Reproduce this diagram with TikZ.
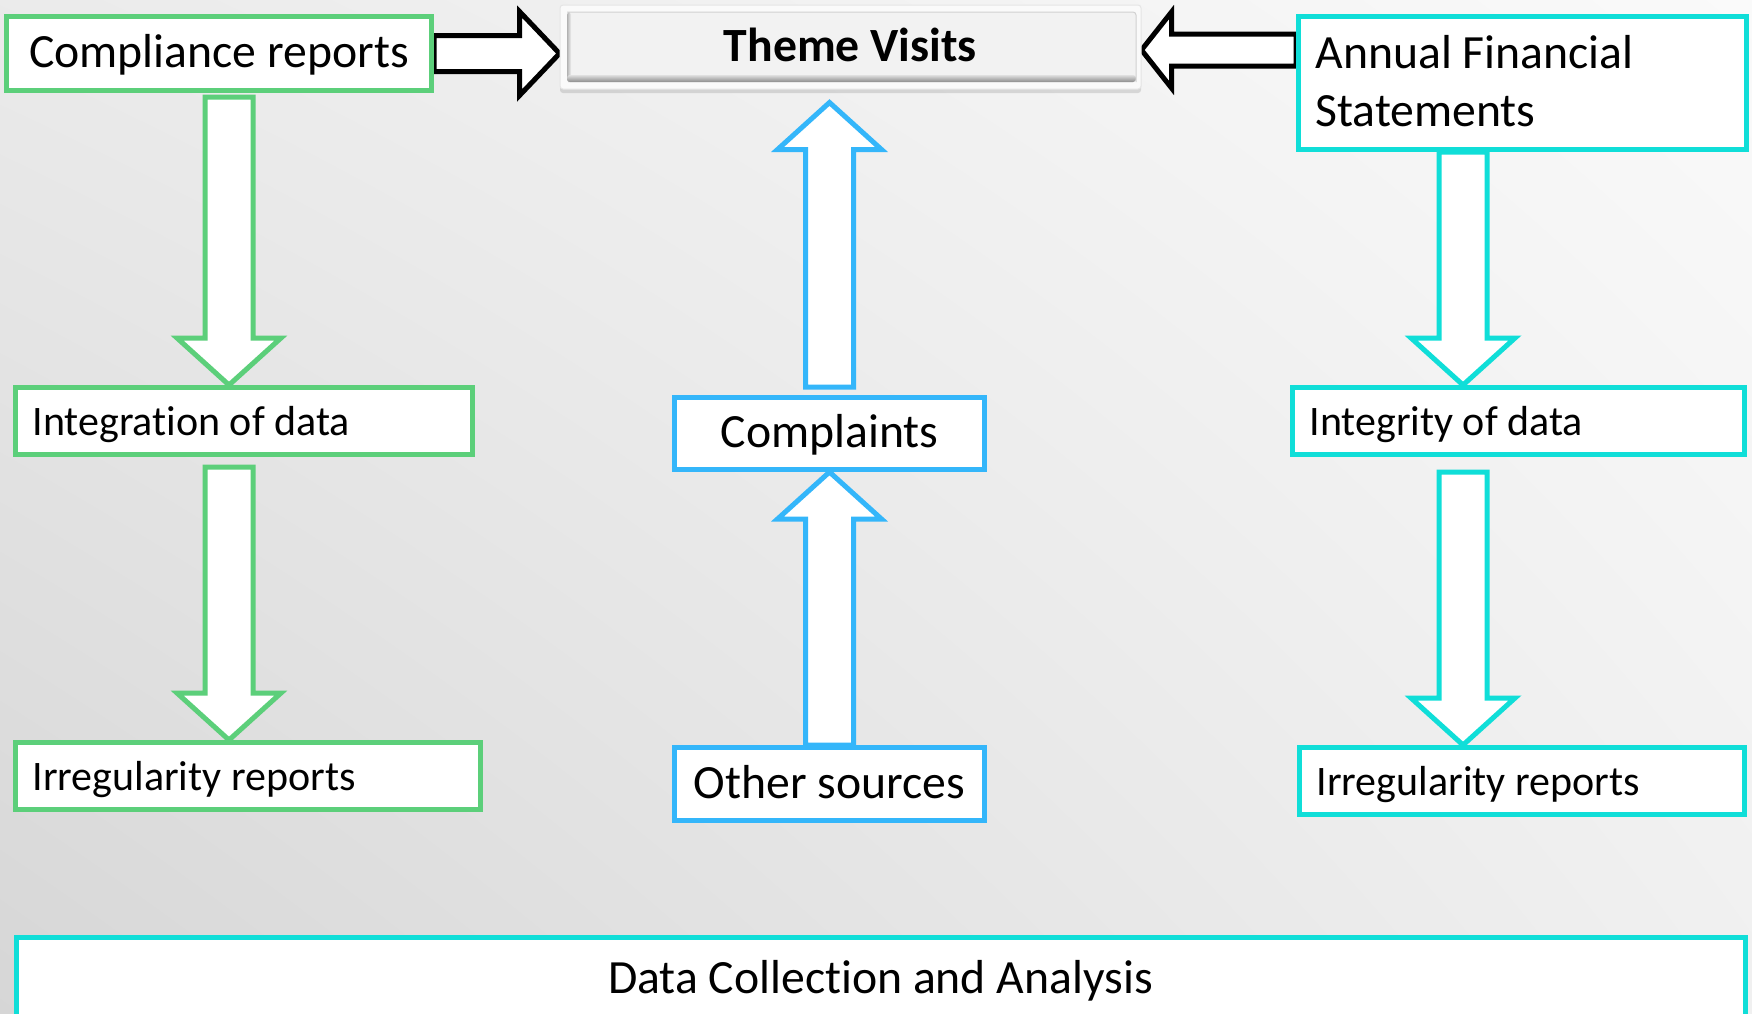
\documentclass[tikz,border=0pt]{standalone}
\usepackage{fontspec}
\setmainfont{Carlito}[Ligatures=NoCommon]
\usetikzlibrary{calc,shadows,shadings}
\definecolor{boxgreen}{RGB}{92,207,122}
\definecolor{boxblue}{RGB}{52,182,250}
\definecolor{boxcyan}{RGB}{16,222,216}
\newcommand{\bigfont}{\fontsize{47.7}{58}\selectfont}
\newcommand{\smallfont}{\fontsize{42}{50}\selectfont}
\pgfdeclarelayer{back}
\pgfdeclarelayer{arrows}
\pgfsetlayers{back,arrows,main}
% block arrow from #2 to #3: shaft half width #4, head half width #5, head length #6
\newcommand{\fatarrow}[6]{%
  \draw[#1] let \p1=#2, \p2=#3,
      \n1={atan2(\y2-\y1,\x2-\x1)}, \n2={veclen(\x2-\x1,\y2-\y1)} in
    [shift={(\p1)}, rotate=\n1]
    (0,#4) -- ({\n2-#6},#4) -- ({\n2-#6},#5) -- (\n2,0)
    -- ({\n2-#6},-#5) -- ({\n2-#6},-#4) -- (0,-#4) -- cycle;
}

\begin{document}
\begin{tikzpicture}[x=1pt,y=-1pt,
    card/.style={draw,line width=5pt,fill=white,inner xsep=17pt,inner ysep=0pt},
    oneline/.style={text height=28pt,text depth=0pt},
    bigtxt/.style={font=\bigfont},
    smalltxt/.style={font=\smallfont,align=flush left,oneline},
    arrowbox/.style={fill=white,line width=5pt,line join=miter},
    themebox/.style={fill=black!2,draw=black!10,line width=1pt,rounded corners=3pt,
      drop shadow={shadow xshift=0pt,shadow yshift=-4pt,opacity=.25},
      font=\bigfont\bfseries,oneline,
      path picture={
        \fill[black!5] ([shift={(7pt,-7pt)}]path picture bounding box.north west) rectangle ([shift={(-5pt,7pt)}]path picture bounding box.south east);
        \shade[left color=black!30,right color=black!6] ([shift={(7pt,-7pt)}]path picture bounding box.north west) rectangle ([shift={(11pt,7pt)}]path picture bounding box.south west);
        \shade[top color=black!12,bottom color=black!45] ([shift={(7pt,14pt)}]path picture bounding box.south west) rectangle ([shift={(-5pt,7pt)}]path picture bounding box.south east);
        \draw[black!18,line width=1pt] ([shift={(7pt,-7pt)}]path picture bounding box.north west) -- ([shift={(-5pt,-7pt)}]path picture bounding box.north east) -- ([shift={(-5pt,7pt)}]path picture bounding box.south east);
      }}]
  \useasboundingbox (0,0) rectangle (1752,1013);
  \clip (0,0) rectangle (1752,1013);
  \begin{pgfonlayer}{back}
    \shade[upper left=black!8,upper right=black!2,lower left=black!16,lower right=black!6] (0,0) rectangle (1752,1013);
  \end{pgfonlayer}

  \node[card,bigtxt,oneline,draw=boxgreen,minimum width=425pt,minimum height=74pt] (comp) at (219,53.5) {Compliance reports};
  \node[themebox,minimum width=581pt,minimum height=84pt] (theme) at (850.5,47) {Theme Visits};
  \node[card,bigtxt,draw=boxcyan,align=flush left,text width=414pt,minimum height=133pt,text height=33pt,text depth=63pt] (annual) at (1522.5,83) {Annual Financial\\Statements};
  \node[card,smalltxt,draw=boxgreen,text width=423pt,minimum height=67pt] (integ) at (244,421) {Integration of data};
  \node[card,smalltxt,draw=boxgreen,text width=431pt,minimum height=67pt] (irregL) at (248,776) {Irregularity reports};
  \node[card,bigtxt,oneline,draw=boxblue,minimum width=310pt,minimum height=72pt] (compl) at (829.5,433.5) {Complaints};
  \node[card,bigtxt,oneline,draw=boxblue,minimum width=310pt,minimum height=73pt] (other) at (829.5,784) {Other sources};
  \node[card,smalltxt,draw=boxcyan,text width=418pt,minimum height=67pt] (integr) at (1518.5,421) {Integrity of data};
  \node[card,smalltxt,draw=boxcyan,text width=411pt,minimum height=67pt] (irregR) at (1522,781) {Irregularity reports};
  \node[card,bigtxt,oneline,draw=boxcyan,minimum width=1729pt,minimum height=84pt] (dca) at (880.5,979.5) {Data Collection and Analysis};

  \coordinate (colA) at (229,0);
  \coordinate (colB) at (829.5,0);
  \coordinate (colC) at (1463,0);
  \coordinate (rowT) at (0,50);

  \begin{pgfonlayer}{arrows}
    \fatarrow{arrowbox,draw=black}{(comp.east)}{(theme.west |- comp.east)}{18}{42}{40}
    \fatarrow{arrowbox,draw=black}{(annual.west |- rowT)}{(theme.east |- rowT)}{16}{38}{30}
    \fatarrow{arrowbox,draw=boxgreen}{($(comp.south -| colA)+(0,4)$)}{(integ.north -| colA)}{24}{52}{47}
    \fatarrow{arrowbox,draw=boxgreen}{($(integ.south -| colA)+(0,10)$)}{(irregL.north -| colA)}{24}{52}{47}
    \fatarrow{arrowbox,draw=boxblue}{(other.north -| colB)}{(compl.south -| colB)}{24}{52}{47}
    \fatarrow{arrowbox,draw=boxblue}{($(compl.north -| colB)+(0,-8)$)}{($(theme.south -| colB)+(0,13)$)}{24}{52}{47}
    \fatarrow{arrowbox,draw=boxcyan}{(annual.south -| colC)}{(integr.north -| colC)}{24}{52}{47}
    \fatarrow{arrowbox,draw=boxcyan}{($(integr.south -| colC)+(0,15)$)}{(irregR.north -| colC)}{24}{52}{47}
  \end{pgfonlayer}
\end{tikzpicture}
\end{document}
